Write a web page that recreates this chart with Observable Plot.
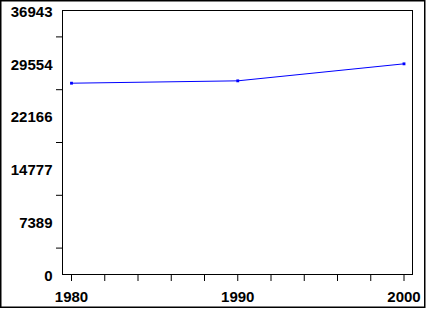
<!DOCTYPE html>
<html>
<head>
<meta charset="utf-8">
<script src="https://cdn.jsdelivr.net/npm/d3@7"></script>
<script src="https://cdn.jsdelivr.net/npm/@observablehq/plot@0.6"></script>
<style>
  body { margin: 0; background: #fff; }
  #chart svg { display: block; }
</style>
</head>
<body>
<div id="chart"></div>
<script>
const years = [1980, 1990, 2000];
const values = [26770, 27100, 29480];
const yTickLabels = ["0", "7389", "14777", "22166", "29554", "36943"];
const yMax = 36943;
const xMajor = [1980, 1990, 2000];
const xMinor = [1982, 1984, 1986, 1988, 1992, 1994, 1996, 1998];

const data = years.map((year, i) => ({year, value: values[i]}));
const yMajor = yTickLabels.map((_, i) => yMax * i / 5);
const yMinorTicks = yMajor.slice(0, -1).map((v) => v + yMax / 10);

const plot = Plot.plot({
  width: 427,
  height: 309,
  marginLeft: 62,
  marginRight: 15,
  marginTop: 10,
  marginBottom: 35,
  style: {fontFamily: "'Liberation Sans', Arial, sans-serif", fontSize: "15px", fontWeight: "bold", color: "black", background: "white"},
  x: {domain: [1980, 2000], insetLeft: 9, insetRight: 8.5},
  y: {domain: [0, yMax]},
  marks: [
    Plot.frame({stroke: "black", strokeWidth: 1}),
    Plot.axisY(yMajor, {tickSize: 6, tickPadding: 4, tickFormat: (d, i) => yTickLabels[i], label: null, fontSize: 15, fontWeight: "bold", dy: 1.5, stroke: null}),
    Plot.axisY(yMinorTicks, {tickSize: 6, tickFormat: null, text: null, label: null}),
    Plot.axisX(xMajor, {tickSize: 7, tickPadding: 10, tickFormat: (d) => String(d), label: null, fontSize: 15, fontWeight: "bold"}),
    Plot.axisX(xMinor, {tickSize: 7, text: null, label: null}),
    Plot.line(data, {x: "year", y: "value", stroke: "#0000ff", strokeWidth: 1}),
    Plot.dot(data, {x: "year", y: "value", symbol: "square", r: 1.6, fill: "#0000ff", stroke: "none"})
  ]
});

d3.select(plot).append("rect")
  .attr("x", 0.75).attr("y", 0.75)
  .attr("width", 424).attr("height", 306.5)
  .attr("fill", "none").attr("stroke", "black").attr("stroke-width", 1.5);

document.getElementById("chart").appendChild(plot);
</script>
</body>
</html>
